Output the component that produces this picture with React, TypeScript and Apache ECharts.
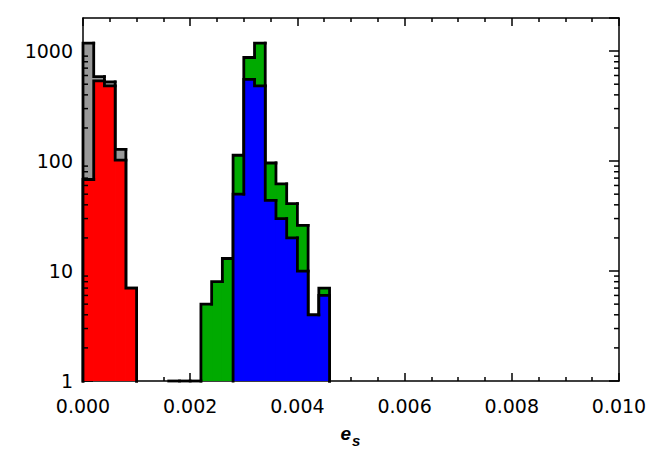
import React, { useEffect, useRef } from "react";
import * as echarts from "echarts";

// Histogram bin width (e_s)
const BIN_WIDTH = 0.0002;

// Group 1: gray (all) and red (subset)
const grayBins = [0.0, 0.0002, 0.0004, 0.0006, 0.0008];
const grayCounts = [1180, 587, 524, 128, 7];
const redBins = [0.0, 0.0002, 0.0004, 0.0006, 0.0008];
const redCounts = [68, 535, 482, 102, 7];

// Group 2: green (all) and blue (subset)
const greenBins = [
  0.0016, 0.0018, 0.002, 0.0022, 0.0024, 0.0026, 0.0028, 0.003, 0.0032, 0.0034,
  0.0036, 0.0038, 0.004, 0.0042, 0.0044,
];
const greenCounts = [1, 1, 1, 5, 8, 13, 113, 875, 1180, 96, 62, 41, 26, 4, 7];
const blueBins = [0.0028, 0.003, 0.0032, 0.0034, 0.0036, 0.0038, 0.004, 0.0042, 0.0044];
const blueCounts = [50, 554, 482, 44, 30, 20, 10, 4, 6];

// Axes
const X_MIN = 0;
const X_MAX = 0.01;
const X_INTERVAL = 0.002;
const Y_MIN = 1;
const Y_MAX = 2000;
const yMinorTicks = [
  2, 3, 4, 5, 6, 7, 8, 9, 20, 30, 40, 50, 60, 70, 80, 90, 200, 300, 400, 500, 600,
  700, 800, 900,
];

const FONT = "DejaVu Sans";

function histFill(name: string, bins: number[], counts: number[], color: string) {
  return {
    name: name + "-fill",
    type: "custom",
    xAxisIndex: 0,
    yAxisIndex: 0,
    silent: true,
    clip: true,
    data: bins.map((b, i) => [b, counts[i]]),
    renderItem: (params: any, api: any) => {
      const x0 = api.value(0);
      const v = api.value(1);
      const p0 = api.coord([x0, v]);
      const p1 = api.coord([x0 + BIN_WIDTH, Y_MIN]);
      return {
        type: "rect",
        shape: { x: p0[0], y: p0[1], width: p1[0] - p0[0], height: p1[1] - p0[1] },
        style: { fill: color, stroke: color, lineWidth: 1 },
      };
    },
  };
}

function histOutline(name: string, bins: number[], counts: number[]) {
  return {
    name: name + "-line",
    type: "custom",
    xAxisIndex: 0,
    yAxisIndex: 0,
    silent: true,
    clip: false,
    data: bins.map((b, i) => [b, counts[i]]),
    renderItem: (params: any, api: any) => {
      const i = params.dataIndex;
      const x0 = api.value(0);
      const v = api.value(1);
      const prev = i > 0 ? counts[i - 1] : Y_MIN;
      const pts = [api.coord([x0, prev]), api.coord([x0, v]), api.coord([x0 + BIN_WIDTH, v])];
      if (i === counts.length - 1) pts.push(api.coord([x0 + BIN_WIDTH, Y_MIN]));
      return {
        type: "polyline",
        shape: { points: pts },
        style: { fill: "none", stroke: "#000", lineWidth: 2.8, lineCap: "square", lineJoin: "miter" },
      };
    },
  };
}

export default function App() {
  const ref = useRef<HTMLDivElement>(null);
  useEffect(() => {
    if (!ref.current) return;
    const chart = echarts.init(ref.current, undefined, { renderer: "svg" });
    const xAxisBase = {
      type: "value",
      min: X_MIN,
      max: X_MAX,
      interval: X_INTERVAL,
      axisLine: { show: true, onZero: false, lineStyle: { color: "#000", width: 1.5 } },
      axisTick: { show: true, inside: true, length: 8, lineStyle: { color: "#000", width: 1.5 } },
      minorTick: { show: true, splitNumber: 4, length: 4, lineStyle: { color: "#000", width: 1.5 } },
      splitLine: { show: false },
      minorSplitLine: { show: false },
    };
    const yAxisBase = {
      type: "log",
      logBase: 10,
      min: Y_MIN,
      max: Y_MAX,
      axisLine: { show: true, onZero: false, lineStyle: { color: "#000", width: 1.5 } },
      axisTick: { show: true, inside: true, length: 10, lineStyle: { color: "#000", width: 1.5 } },
      splitLine: { show: false },
    };
    chart.setOption({
      animation: false,
      backgroundColor: "#fff",
      textStyle: { fontFamily: FONT },
      grid: { left: 83, right: 49, top: 18, bottom: 73, containLabel: false },
      xAxis: [
        {
          ...xAxisBase,
          position: "bottom",
          axisLabel: {
            show: true,
            margin: 15,
            fontSize: 19,
            color: "#000",
            fontFamily: FONT,
            formatter: (v: number) => v.toFixed(3),
          },
        },
        { ...xAxisBase, position: "top", axisLabel: { show: false } },
      ],
      yAxis: [
        {
          ...yAxisBase,
          position: "left",
          axisLabel: {
            show: true,
            margin: 10,
            fontSize: 19,
            color: "#000",
            fontFamily: FONT,
            showMaxLabel: false,
            formatter: (v: number) => String(Math.round(v)),
          },
        },
        { ...yAxisBase, position: "right", axisLabel: { show: false } },
      ],
      graphic: [
        {
          type: "text",
          x: 351,
          y: 433,
          style: {
            text: "e",
            fontSize: 19,
            fontWeight: "bold",
            fontStyle: "italic",
            fontFamily: "Liberation Sans",
            fill: "#000",
            textAlign: "right",
            textVerticalAlign: "middle",
          },
        },
        {
          type: "text",
          x: 352,
          y: 440,
          style: {
            text: "s",
            fontSize: 15,
            fontWeight: "bold",
            fontStyle: "italic",
            fontFamily: "Liberation Sans",
            fill: "#000",
            textAlign: "left",
            textVerticalAlign: "middle",
          },
        },
      ],
      series: [
        histFill("gray", grayBins, grayCounts, "#999999"),
        histOutline("gray", grayBins, grayCounts),
        histFill("red", redBins, redCounts, "#ff0000"),
        histOutline("red", redBins, redCounts),
        histFill("green", greenBins, greenCounts, "#00aa00"),
        histOutline("green", greenBins, greenCounts),
        histFill("blue", blueBins, blueCounts, "#0000ff"),
        histOutline("blue", blueBins, blueCounts),
        {
          name: "yMinorTicks",
          type: "custom",
          xAxisIndex: 0,
          yAxisIndex: 0,
          silent: true,
          clip: false,
          data: yMinorTicks.map((v) => [X_MIN, v]),
          renderItem: (params: any, api: any) => {
            const v = api.value(1);
            const l = api.coord([X_MIN, v]);
            const r = api.coord([X_MAX, v]);
            const st = { stroke: "#000", lineWidth: 1.5 };
            return {
              type: "group",
              children: [
                { type: "line", shape: { x1: l[0], y1: l[1], x2: l[0] + 5, y2: l[1] }, style: st },
                { type: "line", shape: { x1: r[0] - 5, y1: r[1], x2: r[0], y2: r[1] }, style: st },
              ],
            };
          },
        },
      ],
    });
    return () => chart.dispose();
  }, []);
  return (
    <div
      ref={ref}
      style={{ position: "absolute", left: 0, top: 0, width: 668, height: 454 }}
    />
  );
}
